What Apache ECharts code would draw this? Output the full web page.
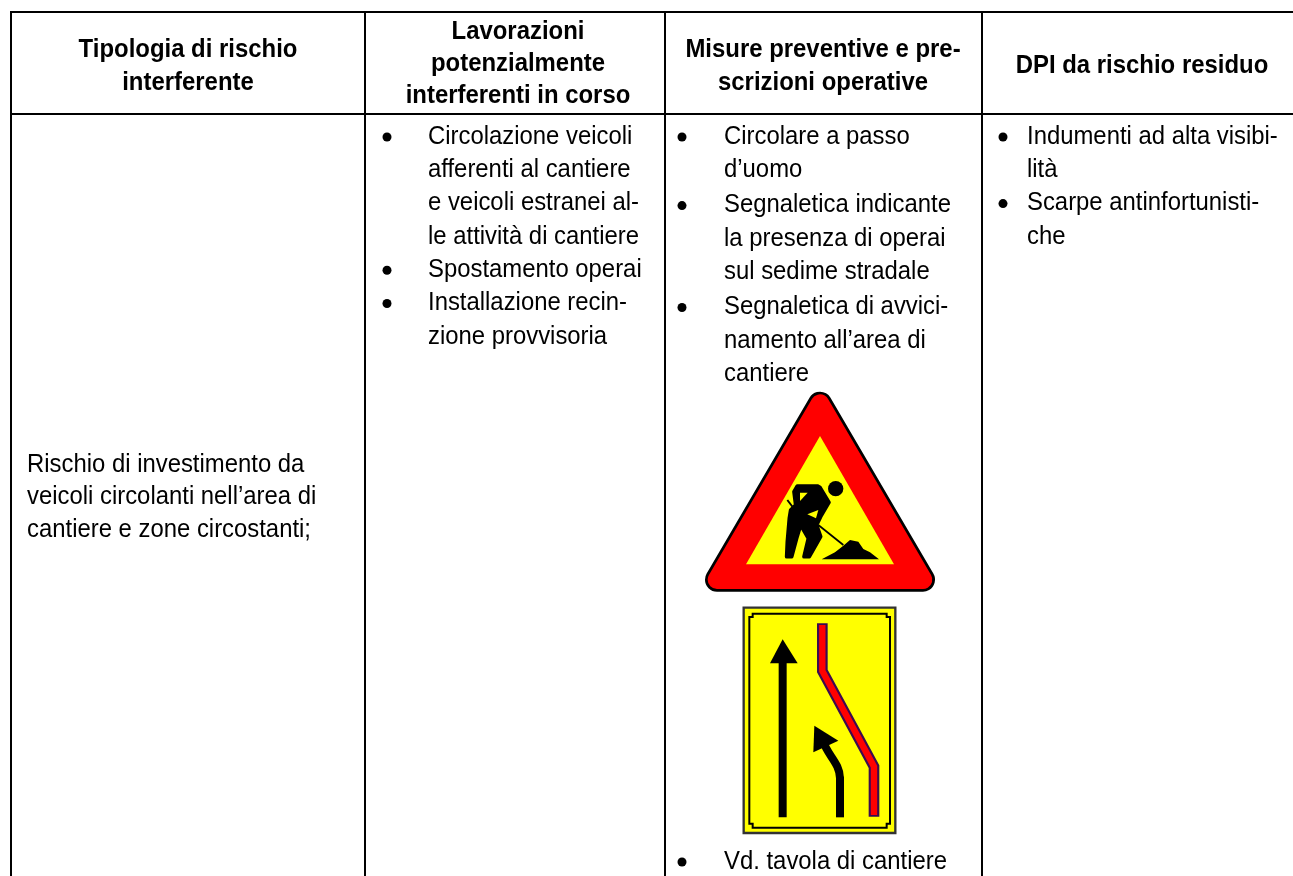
<!DOCTYPE html>
<html>
<head>
<meta charset="utf-8">
<style>
  html, body { margin: 0; padding: 0; background: #fff; }
  #main { width: 1293px; height: 876px; }
</style>
<script src="https://cdn.jsdelivr.net/npm/echarts@6/dist/echarts.min.js"></script>
</head>
<body>
<div id="main"></div>
<script>
const headers = [
  ['Tipologia di rischio', 'interferente'],
  ['Lavorazioni', 'potenzialmente', 'interferenti in corso'],
  ['Misure preventive e pre-', 'scrizioni operative'],
  ['DPI da rischio residuo']
]
const rischio = ['Rischio di investimento da', 'veicoli circolanti nell’area di', 'cantiere e zone circostanti;']
// "*" marks a line that starts with a bullet
const lavorazioni = ['*Circolazione veicoli', 'afferenti al cantiere', 'e veicoli estranei al-', 'le attività di cantiere', '*Spostamento operai', '*Installazione recin-', 'zione provvisoria']
const misure = ['*Circolare a passo', 'd’uomo', '*Segnaletica indicante', 'la presenza di operai', 'sul sedime stradale', '*Segnaletica di avvici-', 'namento all’area di', 'cantiere']
const dpi = ['*Indumenti ad alta visibi-', 'lità', '*Scarpe antinfortunisti-', 'che']

const font = 'Liberation Sans'
const bodySize = 25
const bodySqueeze = 0.955
const headSize = 26
const headSqueeze = 0.92
const lineH = 33.3

const colX = [11, 365, 665, 982]
const headCx = [188, 518, 823, 1142]
const headFirstY = [50, 32, 50, 66]
const headStep = [32.5, 32, 32.5, 0]
const topY = 12
const headY = 114
const bottomY = 876

const els = []

function vLine(x) {
  els.push({ type: 'line', shape: { x1: x, y1: topY, x2: x, y2: bottomY }, style: { stroke: '#000', lineWidth: 2 } })
}
function hLine(y) {
  els.push({ type: 'line', shape: { x1: colX[0] - 1, y1: y, x2: 1293, y2: y }, style: { stroke: '#000', lineWidth: 2 } })
}
function addText(str, x, y, size, weight, align, squeeze) {
  els.push({
    type: 'text', x: x, y: y, scaleX: squeeze, originX: 0, originY: 0,
    style: { text: str, x: 0, y: 0, fill: '#000', font: weight + ' ' + size + 'px "' + font + '"', textAlign: align, textVerticalAlign: 'middle' }
  })
}
function addBullets(lines, bulletX, textX, firstY, paraGap) {
  let y = firstY
  lines.forEach(function (l, i) {
    if (l[0] === '*') {
      if (i > 0) y += paraGap
      els.push({ type: 'circle', shape: { cx: bulletX, cy: y, r: 4.5 }, style: { fill: '#000' } })
      l = l.slice(1)
    }
    addText(l, textX, y, bodySize, 'normal', 'left', bodySqueeze)
    y += lineH
  })
}

colX.forEach(vLine)
hLine(topY)
hLine(headY)

headers.forEach(function (h, c) {
  h.forEach(function (s, i) {
    addText(s, headCx[c], headFirstY[c] + i * headStep[c], headSize, 'bold', 'center', headSqueeze)
  })
})

rischio.forEach(function (s, i) { addText(s, 27, 465 + i * 32.5, bodySize, 'normal', 'left', bodySqueeze) })
addBullets(lavorazioni, 387, 428, 137, 0)
addBullets(misure, 682, 724, 137, 2)
addBullets(dpi, 1003, 1027, 137, 0)
addBullets(['*Vd. tavola di cantiere'], 682, 724, 862, 0)

// road works sign, coordinates are in 3x crop space
const signOutline = [[390, 71], [699, 599], [81, 599]]
els.push({
  type: 'group', x: 690, y: 380, scaleX: 1 / 3, scaleY: 1 / 3,
  children: [
    { type: 'polygon', shape: { points: signOutline }, style: { fill: '#000', stroke: '#000', lineWidth: 72, lineJoin: 'round' } },
    { type: 'polygon', shape: { points: signOutline }, style: { fill: '#f00', stroke: '#f00', lineWidth: 56, lineJoin: 'round' } },
    { type: 'polygon', shape: { points: [[390, 168], [612, 553], [168, 553]] }, style: { fill: '#ff0' } }
  ]
})
// the worker, from a tighter crop
els.push({
  type: 'group', x: 780, y: 475, scaleX: 1 / 3, scaleY: 1 / 3,
  children: [
    { type: 'circle', shape: { cx: 167, cy: 41, r: 23 }, style: { fill: '#000' } },
    { type: 'polygon', shape: { points: [[52, 33], [112, 33], [120, 37], [147, 82], [122, 125], [110, 150], [122, 185], [88, 245], [72, 245], [85, 190], [62, 150], [50, 190], [35, 245], [20, 245], [22, 200], [28, 130], [32, 105], [47, 90], [42, 50]] }, style: { fill: '#000', stroke: '#000', lineWidth: 11, lineJoin: 'round' } },
    { type: 'polygon', shape: { points: [[60, 53], [83, 53], [60, 78]] }, style: { fill: '#ff0' } },
    { type: 'polygon', shape: { points: [[82, 118], [108, 130], [115, 105]] }, style: { fill: '#ff0' } },
    { type: 'line', shape: { x1: 22, y1: 75, x2: 45, y2: 105 }, style: { stroke: '#000', lineWidth: 6 } },
    { type: 'line', shape: { x1: 115, y1: 150, x2: 190, y2: 210 }, style: { stroke: '#000', lineWidth: 5 } },
    { type: 'polygon', shape: { points: [[125, 253], [165, 232], [190, 212], [210, 195], [235, 200], [250, 222], [270, 232], [297, 253]] }, style: { fill: '#000' } }
  ]
})

// lane shift sign, coordinates are in 3x crop space
els.push({
  type: 'group', x: 730, y: 595, scaleX: 1 / 3, scaleY: 1 / 3,
  children: [
    { type: 'rect', shape: { x: 41, y: 38, width: 455, height: 676 }, style: { fill: '#ff0', stroke: '#333', lineWidth: 7 } },
    { type: 'polygon', shape: { points: [[68, 56], [470, 56], [470, 66], [480, 66], [480, 686], [470, 686], [470, 698], [68, 698], [68, 686], [58, 686], [58, 66], [68, 66]] }, style: { fill: 'none', stroke: '#000', lineWidth: 6 } },
    { type: 'rect', shape: { x: 146, y: 200, width: 24, height: 467 }, style: { fill: '#000' } },
    { type: 'polygon', shape: { points: [[158, 133], [203, 205], [120, 205]] }, style: { fill: '#000' } },
    { type: 'polyline', shape: { points: [[277, 85], [277, 228], [432, 515], [432, 665]] }, style: { stroke: '#3c0a50', lineWidth: 32, lineJoin: 'miter' } },
    { type: 'polyline', shape: { points: [[277, 90], [277, 228], [432, 515], [432, 660]] }, style: { stroke: '#f00', lineWidth: 19, lineJoin: 'miter' } },
    { type: 'polygon', shape: { points: [[253, 392], [325, 437], [250, 472]] }, style: { fill: '#000' } },
    { type: 'bezierCurve', shape: { x1: 280, y1: 440, cpx1: 292, cpy1: 480, cpx2: 330, cpy2: 505, x2: 330, y2: 550 }, style: { fill: 'none', stroke: '#000', lineWidth: 24 } },
    { type: 'rect', shape: { x: 318, y: 545, width: 24, height: 122 }, style: { fill: '#000' } }
  ]
})

const chart = echarts.init(document.getElementById('main'), null, { renderer: 'canvas' })
chart.setOption({ animation: false, backgroundColor: '#fff', graphic: { elements: els } })
</script>
</body>
</html>
